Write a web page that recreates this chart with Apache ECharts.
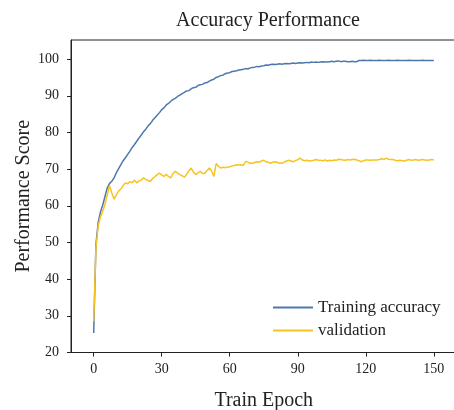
<!DOCTYPE html>
<html>
<head>
<meta charset="utf-8">
<script src="https://cdn.jsdelivr.net/npm/echarts@6/dist/echarts.min.js"></script>
<style>
  html, body { margin: 0; padding: 0; background: #fff; }
  #chart { width: 454px; height: 410px; }
</style>
</head>
<body>
<div id="chart"></div>
<script>
// values, one per epoch (0..150)
const trainAcc = [
  25.3, 49.5, 55.5, 58.3, 60.2, 62.6, 64.9, 66.1, 66.7, 67.6,
  69.0, 70.1, 71.2, 72.3, 73.1, 74.0, 74.9, 75.9, 76.7, 77.6,
  78.5, 79.3, 80.2, 80.9, 81.8, 82.4, 83.3, 84.0, 84.7, 85.4,
  86.2, 86.7, 87.5, 87.9, 88.5, 89.0, 89.3, 89.8, 90.2, 90.6,
  90.9, 91.3, 91.4, 91.9, 92.2, 92.3, 92.8, 93.0, 93.1, 93.5,
  93.6, 94.0, 94.3, 94.5, 95.0, 95.2, 95.5, 95.6, 96.0, 96.2,
  96.3, 96.6, 96.7, 96.8, 97.0, 97.1, 97.2, 97.4, 97.3, 97.6,
  97.7, 97.8, 98.0, 97.9, 98.1, 98.2, 98.4, 98.3, 98.5, 98.6,
  98.5, 98.6, 98.7, 98.6, 98.7, 98.8, 98.7, 98.8, 98.9, 98.8,
  98.9, 99.0, 98.9, 99.0, 99.1, 99.0, 99.2, 99.1, 99.2, 99.1,
  99.2, 99.3, 99.2, 99.2, 99.3, 99.4, 99.3, 99.4, 99.5, 99.3,
  99.4, 99.4, 99.3, 99.3, 99.4, 99.3, 99.3, 99.6, 99.6, 99.7,
  99.6, 99.6, 99.7, 99.6, 99.6, 99.6, 99.7, 99.6, 99.6, 99.6,
  99.7, 99.6, 99.6, 99.6, 99.7, 99.6, 99.6, 99.6, 99.6, 99.7,
  99.6, 99.6, 99.6, 99.6, 99.6, 99.7, 99.6, 99.6, 99.6, 99.6,
  99.6
]
const valAcc = [
  28.5, 48.5, 54.5, 57.0, 58.5, 60.5, 63.0, 65.5, 63.5, 61.8,
  63.0, 64.0, 64.6, 65.5, 66.2, 66.0, 66.6, 66.3, 67.0, 66.2,
  66.8, 67.0, 67.6, 67.2, 66.9, 66.6, 67.5, 67.9, 68.5, 68.9,
  68.4, 68.0, 68.6, 68.0, 67.6, 68.8, 69.4, 68.9, 68.5, 68.2,
  67.8, 68.6, 69.5, 70.3, 69.2, 68.5, 69.0, 69.4, 68.8, 68.9,
  69.6, 70.3, 69.5, 68.0, 71.5, 70.8, 70.3, 70.5, 70.4, 70.6,
  70.6, 70.9, 71.0, 71.2, 71.1, 71.2, 71.0, 72.1, 71.9, 71.6,
  71.6, 71.8, 72.0, 71.9, 72.2, 72.4, 72.0, 71.9, 71.6, 71.9,
  72.0, 71.8, 71.6, 71.6, 71.9, 72.2, 72.4, 72.2, 72.0, 72.3,
  72.6, 73.0, 72.5, 72.3, 72.4, 72.2, 72.3, 72.4, 72.6, 72.4,
  72.4, 72.3, 72.5, 72.2, 72.4, 72.3, 72.5, 72.4, 72.7, 72.6,
  72.5, 72.4, 72.6, 72.5, 72.6, 72.7, 72.5, 72.3, 72.0, 72.3,
  72.5, 72.5, 72.4, 72.5, 72.5, 72.5, 72.6, 72.8, 72.6, 73.0,
  72.7, 72.6, 72.6, 72.4, 72.3, 72.4, 72.3, 72.2, 72.4, 72.6,
  72.4, 72.5, 72.6, 72.4, 72.5, 72.6, 72.5, 72.4, 72.5, 72.6,
  72.5
]
const xTicks = [0, 30, 60, 90, 120, 150]
const yTicks = [20, 30, 40, 50, 60, 70, 80, 90, 100]

const font = 'Liberation Serif'
const ink = '#222'

const myChart = echarts.init(document.getElementById('chart'), null, { renderer: 'canvas' })
const option = {
  animation: false,
  title: {
    text: 'Accuracy Performance',
    left: 263,
    textAlign: 'center',
    top: 6,
    textStyle: { fontFamily: font, fontSize: 20, fontWeight: 'normal', color: ink }
  },
  legend: {
    orient: 'vertical',
    left: 273,
    top: 299,
    padding: 0,
    itemWidth: 40,
    itemHeight: 2,
    itemGap: 6,
    icon: 'rect',
    textStyle: { fontFamily: font, fontSize: 17, color: ink },
    data: ['Training accuracy', 'validation']
  },
  grid: {
    left: 71,
    top: 40,
    width: 385.5,
    height: 312.5,
    outerBoundsMode: 'none',
    containLabel: false,
    show: true,
    borderColor: ink,
    borderWidth: 1,
    backgroundColor: 'transparent'
  },
  xAxis: {
    type: 'value',
    min: -10,
    max: 160,
    name: 'Train Epoch',
    nameLocation: 'middle',
    nameGap: 38,
    nameTextStyle: { fontFamily: font, fontSize: 20, color: ink },
    axisLine: { show: true, onZero: false, lineStyle: { color: ink, width: 1 } },
    axisTick: { show: true, inside: false, length: 4, customValues: xTicks, lineStyle: { color: ink } },
    axisLabel: { customValues: xTicks, margin: 10, fontFamily: font, fontSize: 14, color: ink },
    splitLine: { show: false }
  },
  yAxis: {
    type: 'value',
    min: 20,
    max: 105.2,
    name: 'Performance Score',
    nameLocation: 'middle',
    nameGap: 37,
    nameMoveOverlap: false,
    nameTextStyle: { fontFamily: font, fontSize: 20, color: ink },
    axisLine: { show: true, onZero: false, lineStyle: { color: ink, width: 1 } },
    axisTick: { show: true, inside: false, length: 4, customValues: yTicks, lineStyle: { color: ink } },
    axisLabel: { customValues: yTicks, margin: 12, fontFamily: font, fontSize: 14, color: ink },
    splitLine: { show: false }
  },
  series: [
    {
      name: 'Training accuracy',
      type: 'line',
      showSymbol: false,
      symbol: 'none',
      color: '#4e78ad',
      lineStyle: { width: 1.5 },
      data: trainAcc.map((v, i) => [i, v])
    },
    {
      name: 'validation',
      type: 'line',
      showSymbol: false,
      symbol: 'none',
      color: '#f9c31f',
      lineStyle: { width: 1.5 },
      data: valAcc.map((v, i) => [i, v])
    }
  ]
}
myChart.setOption(option)
</script>
</body>
</html>
